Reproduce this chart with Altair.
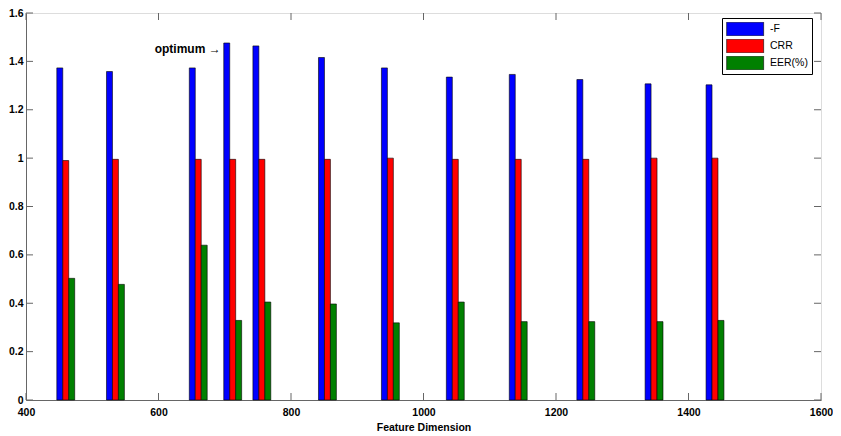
import altair as alt
import pandas as pd

# ---- data ----
dims = [460, 535, 660, 712, 756, 855, 950, 1048, 1143, 1245, 1348, 1440]
neg_f = [1.373, 1.358, 1.373, 1.476, 1.464, 1.416, 1.373, 1.335, 1.346, 1.325, 1.307, 1.303]
crr = [0.990, 0.995, 0.995, 0.995, 0.995, 0.995, 1.000, 0.995, 0.995, 0.995, 1.000, 1.000]
eer = [0.503, 0.478, 0.640, 0.329, 0.405, 0.397, 0.319, 0.405, 0.324, 0.324, 0.324, 0.329]
series_names = ["-F", "CRR", "EER(%)"]
series_colors = ["#0000ff", "#ff0000", "#008000"]
x_ticks = [400, 600, 800, 1000, 1200, 1400, 1600]
y_ticks = [0, 0.2, 0.4, 0.6, 0.8, 1.0, 1.2, 1.4, 1.6]
optimum_label = "optimum \u2192"

W, H = 795, 387
BAR_W = 9  # data units per bar
TICK = 7
AX = "#666666"
FONT = "Liberation Sans"

rows = []
for i, d in enumerate(dims):
    for k, (name, vals) in enumerate(zip(series_names, [neg_f, crr, eer])):
        rows.append({"dim": d, "series": name, "idx": k, "value": vals[i]})
df = pd.DataFrame(rows)

opt_i = neg_f.index(max(neg_f))
opt_df = pd.DataFrame({"dim": [dims[opt_i]], "value": [neg_f[opt_i]], "label": [optimum_label]})
xt_df = pd.DataFrame({"t": x_ticks})
yt_df = pd.DataFrame({"t": y_ticks})

xs = alt.Scale(domain=[400, 1600], nice=False, zero=False)
ys = alt.Scale(domain=[0, 1.6], nice=False)

x_axis = alt.Axis(values=x_ticks, title="Feature Dimension", grid=False,
                  ticks=False, tickSize=0, labelPadding=7, titlePadding=5,
                  domainColor=AX, labelFont=FONT, labelFontSize=10.5,
                  labelFontWeight="bold", labelColor="black",
                  titleFont=FONT, titleFontSize=10.5, titleFontWeight="bold",
                  titleColor="black", format="d", labelFlush=False)
y_axis = alt.Axis(values=y_ticks, title=None, grid=False, ticks=False,
                  tickSize=0, labelPadding=3, domainColor=AX,
                  labelFont=FONT, labelFontSize=10.5, labelFontWeight="bold",
                  labelColor="black", format="~g", labelFlush=False)

# legend swatch: wide rectangle drawn by a custom symbol path
legend_shape = "M-1,-1.17L5.32,-1.17L5.32,1.17L-1,1.17Z"

bars = alt.Chart(df).transform_calculate(
    x0=f"datum.dim + (datum.idx - 1.5) * {BAR_W}",
    x1=f"datum.dim + (datum.idx - 0.5) * {BAR_W}",
).mark_bar(stroke="black", strokeWidth=0.6).encode(
    x=alt.X("x0:Q", scale=xs, axis=x_axis),
    x2="x1:Q",
    y=alt.Y("value:Q", scale=ys, axis=y_axis),
    y2=alt.datum(0),
    color=alt.Color("series:N",
                    scale=alt.Scale(domain=series_names, range=series_colors),
                    sort=series_names,
                    legend=alt.Legend(title=None, orient="none", legendX=696, legendY=5,
                                      symbolType=legend_shape, symbolSize=137,
                                      symbolStrokeColor="black", symbolStrokeWidth=0.6,
                                      symbolOpacity=1, clipHeight=14,
                                      labelOffset=31, labelFont=FONT, labelFontSize=10.5,
                                      labelColor="black", rowPadding=3,
                                      padding=4, strokeColor="black", fillColor="white",
                                      cornerRadius=0)),
)

tick_b = alt.Chart(xt_df).mark_rule(color=AX, strokeWidth=1).encode(
    x=alt.X("t:Q", scale=xs, axis=x_axis), y=alt.value(H), y2=alt.value(H - TICK))
tick_t = alt.Chart(xt_df).mark_rule(color=AX, strokeWidth=1).encode(
    x=alt.X("t:Q", scale=xs, axis=x_axis), y=alt.value(0), y2=alt.value(TICK))
tick_l = alt.Chart(yt_df).mark_rule(color=AX, strokeWidth=1).encode(
    y=alt.Y("t:Q", scale=ys, axis=y_axis), x=alt.value(0), x2=alt.value(TICK))
tick_r = alt.Chart(yt_df).mark_rule(color=AX, strokeWidth=1).encode(
    y=alt.Y("t:Q", scale=ys, axis=y_axis), x=alt.value(W), x2=alt.value(W - TICK))

opt_text = alt.Chart(opt_df).mark_text(
    align="right", baseline="middle", dx=-12, dy=6, font=FONT, fontSize=12,
    fontWeight="bold", color="black").encode(
    x=alt.X("dim:Q", scale=xs, axis=x_axis),
    y=alt.Y("value:Q", scale=ys, axis=y_axis),
    text="label:N")

chart = alt.layer(bars, tick_b, tick_t, tick_l, tick_r, opt_text).properties(
    width=W, height=H,
    autosize=alt.AutoSizeParams(type="none"),
    padding={"left": 18, "top": 5, "right": 12, "bottom": 33},
).configure_view(stroke=AX, strokeWidth=1).configure(background="white")

chart.save("out.html", embed_options={"renderer": "svg", "actions": False})
